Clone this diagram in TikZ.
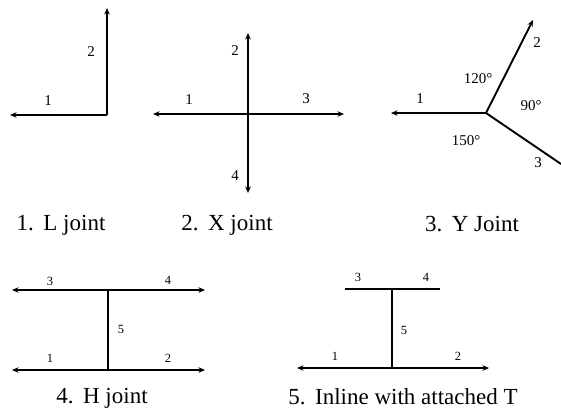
\documentclass[tikz,border=0pt]{standalone}
\usepackage{fontspec}
\setmainfont{Liberation Serif}
\usetikzlibrary{arrows.meta,positioning}

\begin{document}
\begin{tikzpicture}[x=1pt, y=-1pt,
  member/.style={line width=1.9pt},
  post/.style={line width=2.4pt},
  tip/.style={-{Stealth[length=6.5pt,width=5.5pt]}},
  tips/.style={{Stealth[length=6.5pt,width=5.5pt]}-{Stealth[length=6.5pt,width=5.5pt]}},
  num/.style={font=\fontsize{15}{15}\selectfont, inner sep=0pt},
  smallnum/.style={font=\fontsize{12.5}{12.5}\selectfont, inner sep=0pt},
  title/.style={font=\fontsize{23}{25}\selectfont, inner sep=0pt}
]
  \useasboundingbox (0,0) rectangle (561,412);

  % 1. L joint
  \coordinate (Lc) at (107,115);
  \coordinate (L1) at (10,115);
  \coordinate (L2) at (107,8);
  \draw[member,tip] (Lc) -- (L1);
  \draw[member,tip] (Lc) -- (L2);
  \node[num] (Llbl1) at (48,101) {1};
  \node[num] (Llbl2) at (91,52) {2};
  \node[title] (Ltitle) at (61,225) {1.\ \,L joint};

  % 2. X joint
  \coordinate (Xc) at (248,114);
  \coordinate (X1) at (153,114);
  \coordinate (X3) at (344,114);
  \coordinate (X2) at (248,33);
  \coordinate (X4) at (248,193);
  \draw[member,tips] (X1) -- (X3);
  \draw[member,tips] (X2) -- (X4);
  \node[num] (Xlbl1) at (189,100) {1};
  \node[num] (Xlbl2) at (235,51) {2};
  \node[num] (Xlbl3) at (306,99) {3};
  \node[num] (Xlbl4) at (235,176) {4};
  \node[title] (Xtitle) at (227,225) {2.\ \,X joint};

  % 3. Y joint
  \coordinate (Yc) at (486,113);
  \coordinate (Y1) at (391,113);
  \coordinate (Y2) at (533,20);
  \coordinate (Y3) at (561,164);
  \draw[member,tip] (Yc) -- (Y1);
  \draw[member,tip] (Yc) -- (Y2);
  \draw[member] (Yc) -- (Y3);
  \node[num] (Ylbl1) at (420,99) {1};
  \node[num] (Ylbl2) at (537,43) {2};
  \node[num] (Ylbl3) at (538,163) {3};
  \node[num] (Ya) at (478,79) {120°};
  \node[num] (Yb) at (531,106) {90°};
  \node[num] (Yd) at (466,141) {150°};
  \node[title] (Ytitle) at (472,224) {3.\ \,Y Joint};

  % 4. H joint
  \coordinate (Ht) at (108,290);
  \coordinate (Hb) at (108,370);
  \coordinate (H3) at (12,290);
  \coordinate (H4) at (205,290);
  \coordinate (H1) at (12,370);
  \coordinate (H2) at (205,370);
  \draw[member,tips] (H3) -- (H4);
  \draw[member,tips] (H1) -- (H2);
  \draw[post] (Ht) -- (Hb);
  \node[smallnum] (Hlbl3) at (50,281) {3};
  \node[smallnum] (Hlbl4) at (168,280) {4};
  \node[smallnum] (Hlbl5) at (121,329) {5};
  \node[smallnum] (Hlbl1) at (50,358) {1};
  \node[smallnum] (Hlbl2) at (168,358) {2};
  \node[title] (Htitle) at (102,398) {4.\ \,H joint};

  % 5. Inline with attached T
  \coordinate (Tt) at (392,289);
  \coordinate (Tb) at (392,368);
  \coordinate (T3) at (345,289);
  \coordinate (T4) at (440,289);
  \coordinate (T1) at (297,368);
  \coordinate (T2) at (489,368);
  \draw[member] (T3) -- (T4);
  \draw[member,tips] (T1) -- (T2);
  \draw[post] (Tt) -- (Tb);
  \node[smallnum] (Tlbl3) at (358,277) {3};
  \node[smallnum] (Tlbl4) at (426,277) {4};
  \node[smallnum] (Tlbl5) at (404,330) {5};
  \node[smallnum] (Tlbl1) at (335,356) {1};
  \node[smallnum] (Tlbl2) at (458,356) {2};
  \node[title] (Ttitle) at (403,397) {5.\ \,Inline with attached T};
\end{tikzpicture}
\end{document}
